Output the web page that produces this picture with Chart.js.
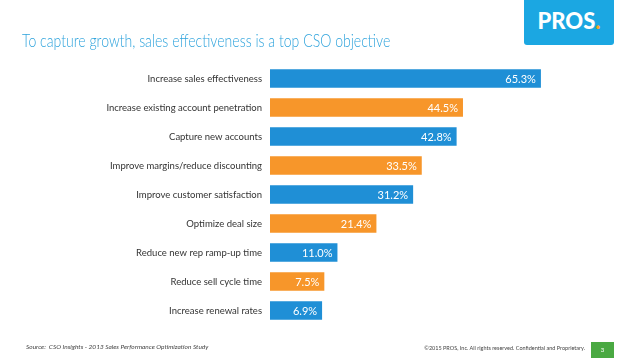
<!DOCTYPE html>
<html>
<head>
<meta charset="utf-8">
<script src="https://cdn.jsdelivr.net/npm/chart.js@4/dist/chart.umd.min.js"></script>
<style>
  html, body { margin: 0; padding: 0; background: #fff; }
  body { width: 638px; height: 359px; position: relative; overflow: hidden; font-family: Lato, "Open Sans", sans-serif; }
  #wrap { position: absolute; left: 0; top: 0; width: 638px; height: 359px; }
  .title { position: absolute; left: 22px; top: 29px; font-size: 18.5px; font-weight: 300; color: #2ea3dc; white-space: nowrap;
           transform: scaleX(0.76); transform-origin: 0 0; }
  .logo { position: absolute; left: 524px; top: 0; width: 90px; height: 45px; background: #1ba7e2; border-radius: 0 0 3px 3px;
          color: #fff; font-weight: 900; font-size: 22px; line-height: 42px; text-align: center; }
  .logo span { color: #f7a823; }
  .source { position: absolute; left: 26px; top: 343px; font-size: 6.5px; font-style: italic; color: #444; white-space: nowrap; }
  .copy { position: absolute; right: 53px; top: 345px; font-size: 5.5px; color: #444; white-space: nowrap; }
  .page { position: absolute; left: 591px; top: 342px; width: 23px; height: 16px; background: #4aa942; color: #fff;
          font-size: 6px; line-height: 16px; text-align: center; }
</style>
</head>
<body>
<div id="wrap"><canvas id="myChart" width="638" height="359"></canvas></div>
<div class="title">To capture growth, sales effectiveness is a top CSO objective</div>
<div class="logo">PROS<span>.</span></div>
<div class="source">Source:&nbsp; CSO Insights - 2013 Sales Performance Optimization Study</div>
<div class="copy">©2015 PROS, Inc. All rights reserved. Confidential and Proprietary.</div>
<div class="page">3</div>
<script>
var labels = [
  'Increase sales effectiveness',
  'Increase existing account penetration',
  'Capture new accounts',
  'Improve margins/reduce discounting',
  'Improve customer satisfaction',
  'Optimize deal size',
  'Reduce new rep ramp-up time',
  'Reduce sell cycle time',
  'Increase renewal rates'
];
var values = [65.3, 44.5, 42.8, 33.5, 31.2, 21.4, 11.0, 7.5, 6.9];
var blue = '#1f8fd6';
var orange = '#f7962a';
var colors = values.map(function (v, i) { return i % 2 == 0 ? blue : orange; });

// writes the % value inside the end of each bar
var valueLabels = {
  id: 'valueLabels',
  afterDatasetsDraw: function (chart) {
    var ctx = chart.ctx;
    var meta = chart.getDatasetMeta(0);
    ctx.save();
    ctx.fillStyle = '#fff';
    ctx.font = '11px Lato, "Open Sans", sans-serif';
    ctx.textAlign = 'right';
    ctx.textBaseline = 'middle';
    meta.data.forEach(function (bar, i) {
      ctx.fillText(values[i].toFixed(1) + '%', bar.x - 5, bar.y + 1);
    });
    ctx.restore();
  }
};

const ctx = document.getElementById('myChart').getContext('2d');
const myChart = new Chart(ctx, {
  type: 'bar',
  data: {
    labels: labels,
    datasets: [{
      data: values,
      base: -7,
      backgroundColor: colors,
      borderWidth: 0,
      barPercentage: 0.8,
      categoryPercentage: 0.8
    }]
  },
  options: {
    indexAxis: 'y',
    responsive: false,
    animation: false,
    layout: { padding: { top: 64, bottom: 34, right: 42, left: 0 } },
    plugins: { legend: { display: false }, tooltip: { enabled: false } },
    scales: {
      x: { display: false, min: -7, max: 80 },
      y: {
        grid: { display: false, drawTicks: false },
        border: { display: false },
        afterFit: function (scale) { scale.width = 270; },
        ticks: {
          padding: 8,
          color: '#333',
          font: { family: 'Lato, "Open Sans", sans-serif', size: 9.5 }
        }
      }
    }
  },
  plugins: [valueLabels]
});
</script>
</body>
</html>
